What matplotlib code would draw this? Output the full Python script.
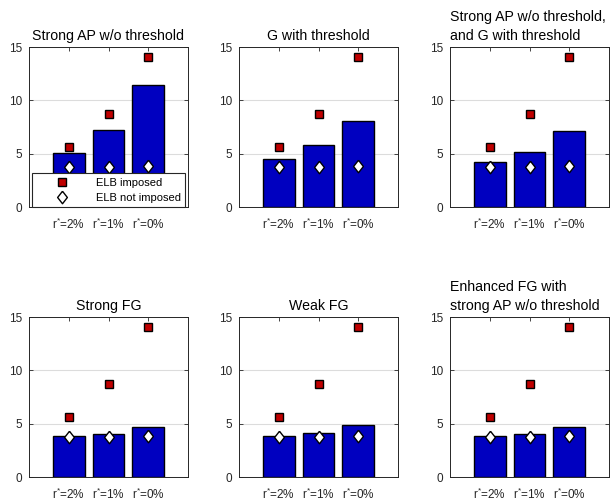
import matplotlib
matplotlib.use("Agg")
import matplotlib.pyplot as plt
import numpy as np

plt.rcParams['font.family'] = ['Liberation Sans', 'DejaVu Sans']
plt.rcParams['mathtext.fontset'] = 'custom'
plt.rcParams['mathtext.rm'] = 'Liberation Sans'
plt.rcParams['mathtext.it'] = 'Liberation Sans'

categories = ["r$^{*}$=2%", "r$^{*}$=1%", "r$^{*}$=0%"]
titles = [
    "Strong AP w/o threshold",
    "G with threshold",
    "Strong AP w/o threshold,\nand G with threshold",
    "Strong FG",
    "Weak FG",
    "Enhanced FG with\nstrong AP w/o threshold",
]
bar_values = [
    [5.05, 7.2, 11.48],
    [4.48, 5.77, 8.1],
    [4.22, 5.17, 7.1],
    [3.83, 4.06, 4.66],
    [3.84, 4.17, 4.88],
    [3.8, 4.04, 4.68],
]
elb_imposed = [5.65, 8.73, 14.1]
elb_not_imposed = [3.75, 3.77, 3.85]

W, H = 610, 501
fig = plt.figure(figsize=(W / 100, H / 100), dpi=100)

col_left = [29, 239, 450]
row_top = [47, 317]
ax_w, ax_h = 159, 160

bar_color = '#0000C0'
sq_color = '#C00000'
diamond = [(0, 1), (0.78, 0), (0, -1), (-0.78, 0), (0, 1)]
axcol = '#262626'

x = np.arange(1, 4)
for i in range(6):
    r, c = divmod(i, 3)
    l = col_left[c] / W
    b = 1 - (row_top[r] + ax_h) / H
    ax = fig.add_axes([l, b, ax_w / W, ax_h / H])
    ax.bar(x, bar_values[i], width=0.8, color=bar_color, edgecolor='black', linewidth=1.0, zorder=2)
    h1, = ax.plot(x, elb_imposed, linestyle='none', marker='s', markersize=6,
                  markerfacecolor=sq_color, markeredgecolor='black', markeredgewidth=1.0, zorder=3)
    h2, = ax.plot(x, elb_not_imposed, linestyle='none', marker=diamond, markersize=9,
                  markerfacecolor='white', markeredgecolor='black', markeredgewidth=1.0, zorder=3)
    ax.set_xlim(0, 4)
    ax.set_ylim(0, 15)
    ax.set_xticks(x)
    ax.set_xticklabels(categories)
    ax.set_yticks([0, 5, 10, 15])
    ax.yaxis.grid(True, color='#dcdcdc', linewidth=0.8)
    ax.set_axisbelow(True)
    ax.tick_params(axis='both', direction='in', length=3, width=0.6, color=axcol,
                   labelcolor=axcol, labelsize=8.5, top=True, right=True)
    ax.tick_params(axis='x', pad=7)
    ax.tick_params(axis='y', pad=5)
    for sp in ax.spines.values():
        sp.set_color(axcol)
        sp.set_linewidth(0.7)
    if '\n' in titles[i]:
        ax.text(0.0, 1.025, titles[i], transform=ax.transAxes, ha='left', va='bottom',
                multialignment='left', fontsize=10.2, linespacing=1.45)
    else:
        ax.set_title(titles[i], fontsize=10.2, pad=5)
    if i == 0:
        leg = ax.legend([h1, h2], ["ELB imposed", "ELB not imposed"], loc='lower left',
                        bbox_to_anchor=(0.02, 0.0), borderaxespad=0, fontsize=8,
                        handlelength=4.6, handletextpad=0.7, borderpad=0.4,
                        labelspacing=0.45, fancybox=False, framealpha=1,
                        edgecolor=axcol)
        leg.get_frame().set_linewidth(0.8)
        leg.set_zorder(5)

fig.savefig("out.png", dpi=100)
